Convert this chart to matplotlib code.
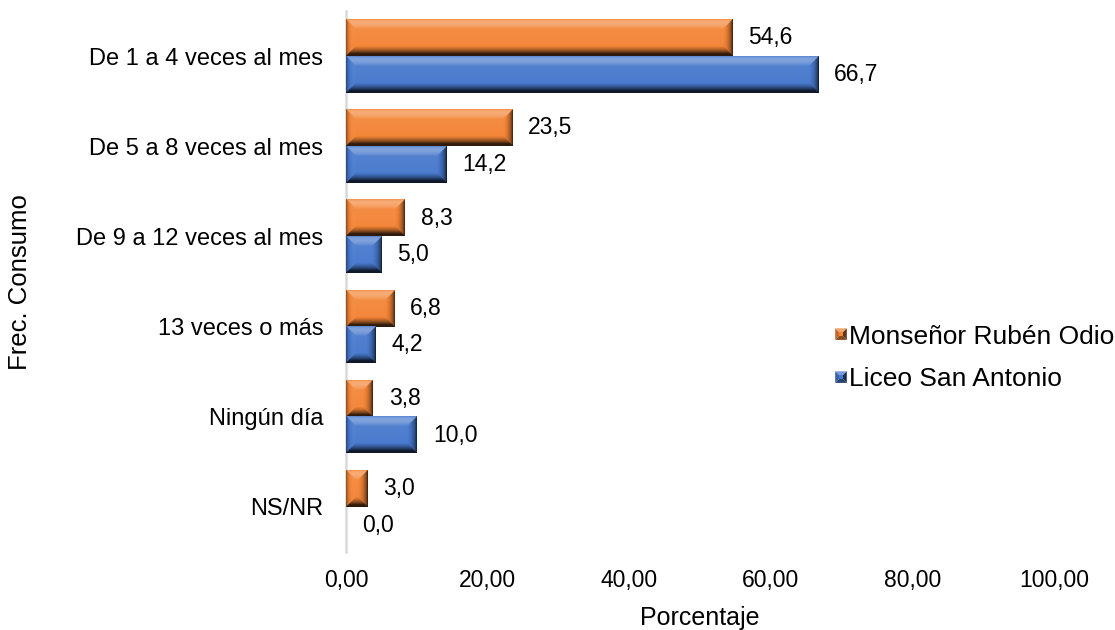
import numpy as np
import matplotlib
matplotlib.use("Agg")
import matplotlib.pyplot as plt
from matplotlib import font_manager
from matplotlib.legend_handler import HandlerBase
from matplotlib.patches import Polygon, Patch

# ---- data -------------------------------------------------------------
categories = ["De 1 a 4 veces al mes", "De 5 a 8 veces al mes",
              "De 9 a 12 veces al mes", "13 veces o más",
              "Ningún día", "NS/NR"]
series_names = ["Monseñor Rubén Odio", "Liceo San Antonio"]
monsenor = [54.6, 23.5, 8.3, 6.8, 3.8, 3.0]
liceo = [66.7, 14.2, 5.0, 4.2, 10.0, 0.0]
x_ticks = [0, 20, 40, 60, 80, 100]

# ---- style ------------------------------------------------------------
base_font = "Liberation Sans"
names = {f.name for f in font_manager.fontManager.ttflist}
narrow_font = "Liberation Sans Narrow" if "Liberation Sans Narrow" in names else base_font
plt.rcParams["font.family"] = [base_font, "DejaVu Sans"]

orange = np.array([243, 133, 55]) / 255.0
blue = np.array([72, 121, 205]) / 255.0

fig = plt.figure(figsize=(11.15, 6.3), dpi=100)
ax = fig.add_axes([346 / 1115, 1 - 552 / 630, 708 / 1115, 541 / 630])

bar_h = 0.405
y = np.arange(len(categories))
bars_m = ax.barh(y - bar_h / 2, monsenor, height=bar_h, color=orange, linewidth=0)
bars_l = ax.barh(y + bar_h / 2, liceo, height=bar_h, color=blue, linewidth=0)

ax.set_xlim(0, 100)
ax.set_ylim(len(categories) - 0.5, -0.5)

# lighting for the bevelled bars
light = np.array([-0.2, 0.8, 1.0])
light = light / np.linalg.norm(light)
face_i = light[2]


def shade(base, nx, ny, nz, top_frac):
    inten = (nx * light[0] + ny * light[1] + nz * light[2]) / face_i
    inten = np.clip(inten, 0, None)
    amb = 0.2
    val = amb + (1 - amb) * inten
    # gentle highlight toward the upper part of the face
    val = val * (1.0 + 0.08 * top_frac)
    rgb = base[None, None, :] * np.minimum(val, 1.0)[..., None]
    extra = np.clip(val - 1.0, 0, 1)[..., None] * 1.0
    rgb = rgb + (1 - rgb) * extra
    return np.clip(rgb, 0, 1)


def bevel_image(base, W, H, depth=10.0, ss=3):
    Wp = max(int(round(W * ss)), 1)
    Hp = max(int(round(H * ss)), 1)
    px = (np.arange(Wp) + 0.5) / ss
    py = (np.arange(Hp) + 0.5) / ss
    X, Y = np.meshgrid(px, py)
    d = min(depth, W / 2.0, H / 2.0)
    stack = np.stack([X, W - X, Y, H - Y])
    idx = np.argmin(stack, axis=0)
    m = np.min(stack, axis=0)
    t = np.clip(m / d, 0, 1)
    inner = m >= d
    c = 1 - t
    s = np.sqrt(np.clip(1 - c ** 2, 0, 1))
    # left, right, top, bottom facets (screen: x right, y up)
    ox = np.array([-1, 1, 0, 0])[idx]
    oy = np.array([0, 0, 1, -1])[idx]
    nx = np.where(inner, 0, ox * c)
    ny = np.where(inner, 0, oy * c)
    nz = np.where(inner, 1, s)
    top_frac = 1 - Y / H
    return shade(base, nx, ny, nz, top_frac)


fig.canvas.draw()
for bars, col in ((bars_m, orange), (bars_l, blue)):
    for r in bars:
        x0, y0, w, h = r.get_x(), r.get_y(), r.get_width(), r.get_height()
        if w <= 0:
            continue
        p0 = ax.transData.transform((x0, y0))
        p1 = ax.transData.transform((x0 + w, y0 + h))
        W, H = abs(p1[0] - p0[0]), abs(p1[1] - p0[1])
        img = bevel_image(col, W, H)
        # row 0 is the visual top of the bar (smaller y on the inverted axis)
        ax.imshow(img, extent=(x0, x0 + w, y0 + h, y0), origin="upper",
                  aspect="auto", interpolation="antialiased", zorder=3)

ax.set_xlim(0, 100)
ax.set_ylim(len(categories) - 0.5, -0.5)

# value labels
for bars, vals in ((bars_m, monsenor), (bars_l, liceo)):
    for r, v in zip(bars, vals):
        ax.annotate(f"{v:.1f}".replace(".", ","),
                    xy=(v, r.get_y() + r.get_height() / 2),
                    xytext=(11.5, 0), textcoords="offset points",
                    ha="left", va="center", fontsize=16.5, color="#000000",
                    zorder=5)

# axes
ax.set_yticks(y)
ax.set_yticklabels(categories, fontsize=17)
ax.tick_params(axis="y", length=0, pad=16.5)
ax.set_xticks(x_ticks)
ax.set_xticklabels([f"{t:.2f}".replace(".", ",") for t in x_ticks],
                   fontsize=16.5, fontfamily=narrow_font)
ax.tick_params(axis="x", length=0, pad=12)
for side in ("top", "right", "bottom"):
    ax.spines[side].set_visible(False)
ax.spines["left"].set_color("#D9D9D9")
ax.spines["left"].set_linewidth(1.8)

fig.text(700 / 1115, 1 - 618 / 630, "Porcentaje", ha="center", va="center",
         fontsize=18)
fig.text(20 / 1115, 1 - 282 / 630, "Frec. Consumo", rotation=90,
         ha="center", va="center", fontsize=18.5)


class BevelHandler(HandlerBase):
    def __init__(self, base):
        super().__init__()
        self.base = base

    def create_artists(self, legend, orig_handle, xdescent, ydescent,
                       width, height, fontsize, trans):
        b = self.base
        sz = min(width, height)
        x0 = -xdescent + (width - sz) / 2
        y0 = -ydescent + (height - sz) / 2
        x1, y1 = x0 + sz, y0 + sz
        cx0, cy0, cx1, cy1 = x0 + sz * 0.35, y0 + sz * 0.35, x1 - sz * 0.35, y1 - sz * 0.35

        def tone(k):
            if k <= 1:
                return tuple(np.clip(b * k, 0, 1))
            return tuple(b + (1 - b) * (k - 1))

        polys = [
            ([(x0, y1), (x1, y1), (cx1, cy1), (cx0, cy1)], tone(1.25)),
            ([(x0, y0), (x1, y0), (cx1, cy0), (cx0, cy0)], tone(0.55)),
            ([(x0, y0), (x0, y1), (cx0, cy1), (cx0, cy0)], tone(0.8)),
            ([(x1, y0), (x1, y1), (cx1, cy1), (cx1, cy0)], tone(0.4)),
            ([(cx0, cy0), (cx1, cy0), (cx1, cy1), (cx0, cy1)], tone(1.0)),
        ]
        return [Polygon(pts, closed=True, facecolor=fc, edgecolor="none",
                        transform=trans) for pts, fc in polys]


h_m = Patch(facecolor=orange)
h_l = Patch(facecolor=blue)
fig.legend([h_m, h_l], series_names, loc="center left",
           bbox_to_anchor=(822 / 1115, 1 - 358 / 630), frameon=False,
           fontsize=19, handlelength=0.44, handleheight=0.44,
           handletextpad=0.1, labelspacing=0.72, borderpad=0,
           handler_map={h_m: BevelHandler(orange), h_l: BevelHandler(blue)})

fig.savefig("out.png", dpi=100)
